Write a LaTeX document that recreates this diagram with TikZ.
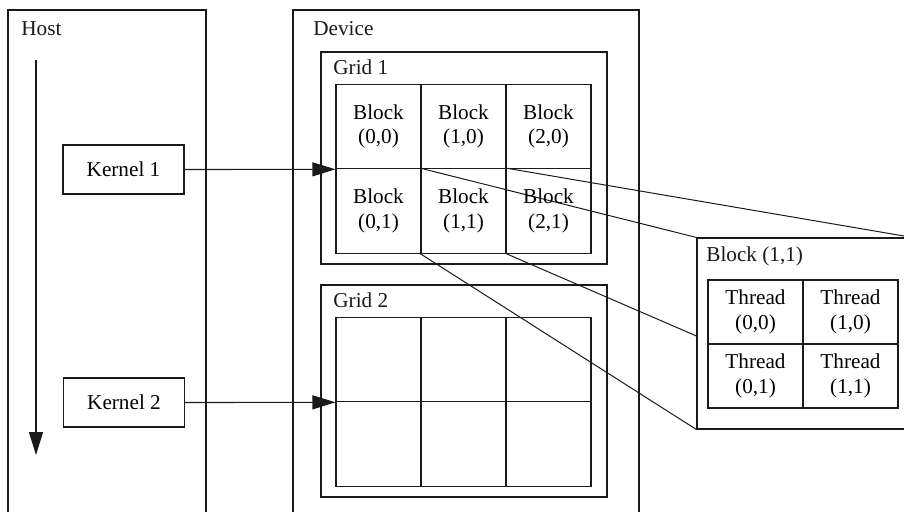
\documentclass[tikz,border=0pt]{standalone}
\usepackage{fontspec}
\setmainfont{Liberation Serif}
\usepackage{tikz}
\usetikzlibrary{calc,arrows.meta,backgrounds}
\definecolor{ink}{HTML}{1A1A1A}
\newcommand\lbfont{\fontsize{10.6}{12.2}\selectfont}
\tikzset{
  frame/.style={draw=ink, line width=0.55pt},
  lbl/.style={text=ink, font=\lbfont, anchor=west, inner sep=0pt},
  cell/.style={draw=ink, line width=0.55pt, minimum width=42.5pt, minimum height=42.25pt, inner sep=0pt, align=center, font=\lbfont},
  tcell/.style={cell, minimum width=47.5pt, minimum height=32pt},
  kbox/.style={draw=ink, line width=0.55pt, minimum width=60.5pt, minimum height=24.5pt, inner sep=0pt, font=\lbfont},
  zbox/.style={draw=ink, line width=0.55pt, fill=white, minimum width=107.5pt, minimum height=95.5pt, inner sep=0pt},
  arr/.style={draw=ink, line width=0.55pt, -{Triangle[length=11.5pt,width=7pt]}},
  link/.style={draw=ink, line width=0.5pt}
}

\begin{document}
\begin{tikzpicture}[x=0.5pt,y=-0.5pt]
\useasboundingbox (0,0) rectangle (904,511);

% host and device
\draw[frame] (8,10) rectangle (206,530);
\draw[frame] (293,10) rectangle (639,530);
\node[lbl] (host) at (21,29) {Host};
\node[lbl] (dev) at (313,29) {Device};

\coordinate (t0) at (36,60);
\coordinate (t1) at (36,455);
\draw[arr] (t0) -- (t1);

\node[kbox] (k1) at (123.5,169.5) {Kernel 1};
\node[kbox] (k2) at (124,402.5) {Kernel 2};

% grids
\draw[frame] (321,52) rectangle (607,264);
\draw[frame] (321,285) rectangle (607,497);
\node[lbl] (gl1) at (333,67) {Grid 1};
\node[lbl] (gl2) at (333,300) {Grid 2};

\foreach \i in {0,1,2}
  \foreach \j in {0,1} {
    \node[cell] (b\i\j) at (378.5+85*\i,126.5+84.5*\j) {Block\\(\i,\j)};
    \node[cell] (g\i\j) at (378.5+85*\i,359.5+84.5*\j) {};
  }

\draw[arr] (k1.east) -- (b00.south west);
\draw[arr] (k2.east) -- (g00.south west);

% zoomed block
\node[zbox] (blk) at (804.5,333.5) {};
\node[lbl] (bl) at (706,256) {Block (1,1)};
\foreach \i in {0,1}
  \foreach \j in {0,1}
    \node[tcell] (t\i\j) at (755.5+95*\i,312+64*\j) {Thread\\(\i,\j)};

\begin{scope}[on background layer]
\draw[link] (b11.north west) -- (blk.north west);
\draw[link] (b11.north east) -- (blk.north east);
\draw[link] (b11.south west) -- (blk.south west);
\draw[link] (b11.south east) -- (blk.south east);
\end{scope}
\end{tikzpicture}
\end{document}
